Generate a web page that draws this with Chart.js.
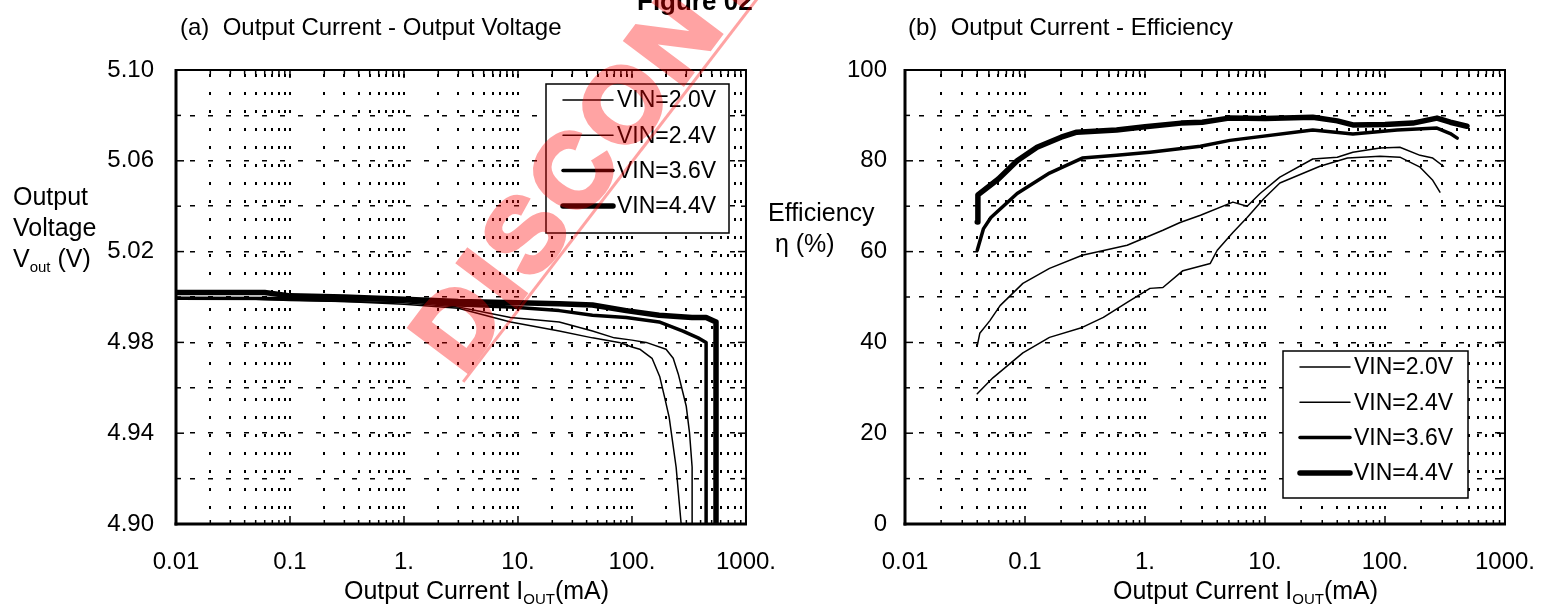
<!DOCTYPE html>
<html>
<head>
<meta charset="utf-8">
<title>Output Current characteristics</title>
<script src="https://cdn.jsdelivr.net/npm/chart.js@4.4.1/dist/chart.umd.min.js"></script>
<style>
  body { margin: 0; background: #fff; }
  #page { position: relative; width: 1545px; height: 607px; overflow: hidden;
          font-family: "Liberation Sans", Arial, sans-serif; color: #000; }
  canvas { position: absolute; top: 0; }
  #chartA { left: 0; }
  #chartB { left: 770px; }
  .t { position: absolute; white-space: pre; font-size: 24px; line-height: 31px; }
  .ax { font-size: 25px; }
  sub { font-size: 15px; vertical-align: -5px; line-height: 0; }
  #stamp { position: absolute; left: 463px; top: 376px; transform: rotate(-53deg); transform-origin: 0 0; opacity: 0.36; }
  #stamp span { position: absolute; left: 0; top: -88px; white-space: pre; color: #f00; letter-spacing: 6px;
                font: bold 104px/104px "Liberation Sans", Arial, sans-serif; -webkit-text-stroke: 5px #f00; }
  #stampLine { position: absolute; left: 462px; top: 381px; width: 700px; height: 2.5px;
               background: rgba(255, 0, 0, 0.36); transform: rotate(-52.5deg); transform-origin: 0 0; }
</style>
</head>
<body>
<div id="page">
  <canvas id="chartA" width="800" height="607"></canvas>
  <canvas id="chartB" width="800" height="607"></canvas>

  <div class="t" style="left:180px; top:11px;">(a)  Output Current - Output Voltage</div>
  <div class="t" style="left:908px; top:11px;">(b)  Output Current - Efficiency</div>
  <div class="t" style="left:637px; top:-14px; font-weight:bold; font-size:26px;">Figure 02</div>

  <div class="t ax" style="left:13px; top:181px;">Output<br>Voltage<br>V<sub>out</sub> (V)</div>
  <div class="t ax" style="left:768px; top:197px;">Efficiency<br> η (%)</div>

  <div class="t ax" style="left:344px; top:575px;">Output Current I<sub>OUT</sub>(mA)</div>
  <div class="t ax" style="left:1113px; top:575px;">Output Current I<sub>OUT</sub>(mA)</div>

  <div id="stampLine"></div>
  <div id="stamp"><span>DISCONTINUED</span></div>
</div>

<script>
// x axis (shared): output current, log scale
const decades = [0.01, 0.1, 1, 10, 100, 1000]
const decadeLabels = ['0.01', '0.1', '1.', '10.', '100.', '1000.']

// (a) output voltage, tick labels every 0.04 V
const voutTicks = [4.90, 4.94, 4.98, 5.02, 5.06, 5.10]
// (b) efficiency, tick labels every 20 %
const effTicks = [0, 20, 40, 60, 80, 100]

const seriesLabels = ['VIN=2.0V', 'VIN=2.4V', 'VIN=3.6V', 'VIN=4.4V']

// (a) Output Current [mA] - Output Voltage [V]
const ioutA20 = [0.01, 0.05, 0.1, 0.3, 1, 3, 8.6, 23, 45, 77, 100, 117, 150, 175, 195, 212, 244, 270]
const vout20  = [4.999, 4.999, 4.9985, 4.998, 4.9968, 4.995, 4.989, 4.985, 4.982, 4.980, 4.978, 4.977, 4.973, 4.965, 4.955, 4.947, 4.925, 4.900]
const ioutA24 = [0.01, 0.05, 0.1, 0.3, 1, 3, 8.6, 23, 45, 70, 100, 133, 199, 230, 255, 299, 320, 337, 337]
const vout24  = [4.999, 4.999, 4.9987, 4.998, 4.9975, 4.9956, 4.991, 4.989, 4.985, 4.982, 4.981, 4.980, 4.977, 4.973, 4.966, 4.952, 4.940, 4.925, 4.900]
const ioutA36 = [0.01, 0.1, 1, 3, 8.6, 23, 45, 89, 173, 280, 380, 447, 447]
const vout36  = [4.9995, 4.9993, 4.9985, 4.9965, 4.9956, 4.994, 4.992, 4.991, 4.989, 4.985, 4.982, 4.980, 4.900]
const ioutA44 = [0.01, 0.06, 0.1, 0.3, 1, 3, 10, 23, 45, 89, 173, 336, 447, 546, 546]
const vout44  = [5.002, 5.002, 5.0005, 5.000, 4.999, 4.998, 4.9975, 4.997, 4.9965, 4.994, 4.992, 4.991, 4.991, 4.989, 4.900]

// (b) Output Current [mA] - Efficiency [%]
const ioutB20 = [0.04, 0.054, 0.096, 0.16, 0.3, 0.45, 0.71, 1.1, 1.41, 2.07, 3.5, 4.0, 5.4, 7.1, 9.8, 13.3, 28.7, 48.7, 91, 133, 196, 250, 287]
const eff20   = [28.7, 32.2, 37.7, 41.1, 43.3, 45.5, 48.8, 51.9, 52.1, 55.8, 57.4, 60.3, 64.2, 67.5, 71.7, 75.1, 78.8, 80.6, 81.0, 80.8, 78.6, 75.7, 73.1]
const ioutB24 = [0.04, 0.042, 0.051, 0.062, 0.096, 0.16, 0.3, 0.71, 1.41, 1.96, 2.9, 5.4, 7.1, 9.1, 13.3, 25, 40, 54, 91, 133, 196, 250, 307]
const eff24   = [39.3, 42.0, 44.8, 48.1, 53.0, 56.3, 59.2, 61.4, 64.7, 66.4, 68.0, 70.9, 70.0, 72.8, 76.4, 80.4, 80.8, 81.9, 82.8, 83.0, 81.2, 80.6, 78.8]
const ioutB36 = [0.04, 0.045, 0.052, 0.086, 0.16, 0.3, 0.58, 1.1, 2.9, 5.1, 25, 54, 126, 271, 350, 400]
const eff36   = [60.3, 65.0, 67.5, 72.8, 77.3, 80.6, 81.2, 81.9, 83.2, 84.5, 86.8, 85.9, 86.8, 87.2, 86.0, 85.0]
const ioutB44 = [0.04, 0.0405, 0.06, 0.086, 0.126, 0.2, 0.27, 0.58, 1, 2, 3, 5, 10, 25, 40, 54, 100, 171, 271, 350, 482]
const eff44   = [66.5, 72.5, 76.0, 80.0, 83.0, 85.2, 86.3, 86.8, 87.5, 88.3, 88.5, 89.4, 89.3, 89.6, 88.8, 87.9, 88.0, 88.3, 89.4, 88.5, 87.6]

const lineWidths = [1.5, 1.5, 3.5, 5.5]
const fontFamily = '"Liberation Sans", Arial, sans-serif'

Chart.defaults.font.family = fontFamily
Chart.defaults.font.size = 24
Chart.defaults.color = '#000'

const near = (a, b) => Math.abs(a - b) <= Math.abs(b) * 1e-6 + 1e-9

// 1..9 x 10^n grid values for the log axis
let logGrid = []
decades.forEach((d, i) => {
  if (i == decades.length - 1) {
    logGrid.push(d)
    return
  }
  for (let m = 1; m < 10; m++)
    logGrid.push(Number((d * m).toPrecision(6)))
})

// dashed horizontal grid at the labelled ticks and half-way between them
function halfSteps(ticks) {
  let out = []
  ticks.forEach((t, i) => {
    out.push(t)
    if (i < ticks.length - 1)
      out.push(Number(((t + ticks[i + 1]) / 2).toPrecision(6)))
  })
  return out
}

function toPoints(xs, ys) {
  return xs.map((x, i) => ({x, y: ys[i]}))
}

function makeDatasets(pairs) {
  return pairs.map((p, i) => ({
    label: seriesLabels[i],
    data: toPoints(p[0], p[1]),
    borderColor: '#000',
    borderWidth: lineWidths[i],
    showLine: true,
    pointRadius: 0,
    tension: 0,
    borderJoinStyle: 'round',
    borderCapStyle: 'round'
  }))
}

// box + inward tick marks like the original plot frame
const frame = {
  id: 'frame',
  afterDatasetsDraw(chart) {
    const {ctx, chartArea: a, scales: {x, y}} = chart
    const seg = (x1, y1, x2, y2) => {
      ctx.beginPath()
      ctx.moveTo(x1, y1)
      ctx.lineTo(x2, y2)
      ctx.stroke()
    }
    ctx.save()
    ctx.strokeStyle = '#000'
    ctx.lineWidth = 1.5
    x.ticks.forEach(t => {
      const px = x.getPixelForValue(t.value)
      const len = t.label ? 8 : 4
      seg(px, a.bottom, px, a.bottom - len)
      seg(px, a.top, px, a.top + len)
    })
    y.ticks.forEach(t => {
      const py = y.getPixelForValue(t.value)
      const len = t.label ? 8 : 5
      seg(a.left, py, a.left + len, py)
      seg(a.right, py, a.right - len, py)
    })
    ctx.lineWidth = 2
    ctx.strokeRect(a.left, a.top, a.width, a.height)
    ctx.lineWidth = 3
    seg(a.left, a.top - 1, a.left, a.bottom + 1.5)
    seg(a.left - 1.5, a.bottom, a.right + 1, a.bottom)
    ctx.restore()
  }
}

// legend drawn inside the plot area, in a white box
const boxLegend = {
  id: 'boxLegend',
  afterDraw(chart, args, opts) {
    const {ctx, chartArea} = chart
    const x0 = chartArea.left + opts.x
    const y0 = chartArea.top + opts.y
    ctx.save()
    ctx.fillStyle = '#fff'
    ctx.fillRect(x0, y0, opts.w, opts.h)
    ctx.strokeStyle = '#000'
    ctx.lineWidth = 1.5
    ctx.strokeRect(x0, y0, opts.w, opts.h)
    ctx.font = '23px ' + fontFamily
    ctx.textBaseline = 'middle'
    ctx.fillStyle = '#000'
    ctx.lineCap = 'round'
    chart.data.datasets.forEach((ds, i) => {
      const yy = y0 + 16 + i * 35.3
      ctx.lineWidth = ds.borderWidth
      ctx.beginPath()
      ctx.moveTo(x0 + 17, yy)
      ctx.lineTo(x0 + 67, yy)
      ctx.stroke()
      ctx.fillText(ds.label, x0 + 71, yy + 1)
    })
    ctx.restore()
  }
}

function xScale() {
  return {
    type: 'logarithmic',
    min: 0.01,
    max: 1000,
    afterBuildTicks: s => { s.ticks = logGrid.map(v => ({value: v})) },
    afterFit: s => { s.height = 83 },
    ticks: {
      autoSkip: false,
      maxRotation: 0,
      padding: 24,
      callback: v => {
        const i = decades.findIndex(d => near(v, d))
        return i < 0 ? '' : decadeLabels[i]
      }
    },
    grid: { color: '#000', lineWidth: 2, drawTicks: false },
    border: { display: false, dash: [3, 15], dashOffset: -4 }
  }
}

function yScale(ticks, labelFor, width, pad) {
  const lo = ticks[0]
  const hi = ticks[ticks.length - 1]
  const grid = halfSteps(ticks)
  return {
    type: 'linear',
    min: lo,
    max: hi,
    afterBuildTicks: s => { s.ticks = grid.map(v => ({value: v})) },
    afterFit: s => { s.width = width },
    ticks: {
      autoSkip: false,
      padding: pad,
      callback: v => {
        const t = ticks.find(k => near(v, k))
        return t === undefined ? '' : labelFor(t)
      }
    },
    grid: { color: '#000', lineWidth: 1.5, drawTicks: false },
    border: { display: false, dash: [5, 13], dashOffset: -14 }
  }
}

function makeChart(canvas, datasets, y, padding, legendBox) {
  return new Chart(canvas, {
    type: 'scatter',
    data: { datasets },
    options: {
      responsive: false,
      animation: false,
      layout: { padding },
      scales: { x: xScale(), y },
      plugins: {
        legend: { display: false },
        tooltip: { enabled: false },
        boxLegend: legendBox
      }
    },
    plugins: [frame, boxLegend]
  })
}

makeChart(
  document.getElementById('chartA'),
  makeDatasets([[ioutA20, vout20], [ioutA24, vout24], [ioutA36, vout36], [ioutA44, vout44]]),
  yScale(voutTicks, t => t.toFixed(2), 176, 22),
  { top: 70, right: 53, bottom: 0, left: 0 },
  { x: 370, y: 14, w: 183, h: 149 }
)

makeChart(
  document.getElementById('chartB'),
  makeDatasets([[ioutB20, eff20], [ioutB24, eff24], [ioutB36, eff36], [ioutB44, eff44]]),
  yScale(effTicks, t => String(t), 135, 18),
  { top: 70, right: 65, bottom: 0, left: 0 },
  { x: 378, y: 281, w: 185, h: 147 }
)
</script>
</body>
</html>
